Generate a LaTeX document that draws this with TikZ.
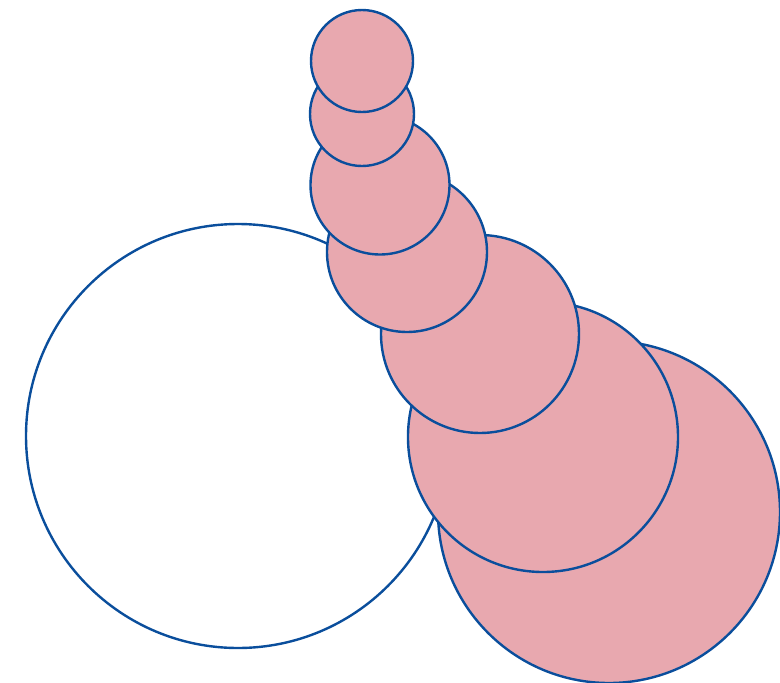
\documentclass[tikz,border=0pt]{standalone}
\definecolor{ringblue}{HTML}{0A4E9C}
\definecolor{pinkfill}{HTML}{E8A8AF}
\begin{document}
\begin{tikzpicture}[x=1pt,y=-1pt,
  ring/.style={draw=ringblue,line width=2.4pt},
  pinkring/.style={ring,fill=pinkfill}]
\useasboundingbox (0,0) rectangle (780,683);
\clip (0,0) rectangle (780,683);
\draw[ring,fill=white] (238,436) circle (212);
\draw[pinkring] (609,512) circle (171);
\draw[pinkring] (543,437) circle (135);
\draw[pinkring] (480,334) circle (99);
\draw[pinkring] (407,252) circle (80);
\draw[pinkring] (380,185) circle (69.5);
\draw[pinkring] (362,114) circle (52);
\draw[pinkring] (362,61) circle (51);
\end{tikzpicture}
\end{document}
